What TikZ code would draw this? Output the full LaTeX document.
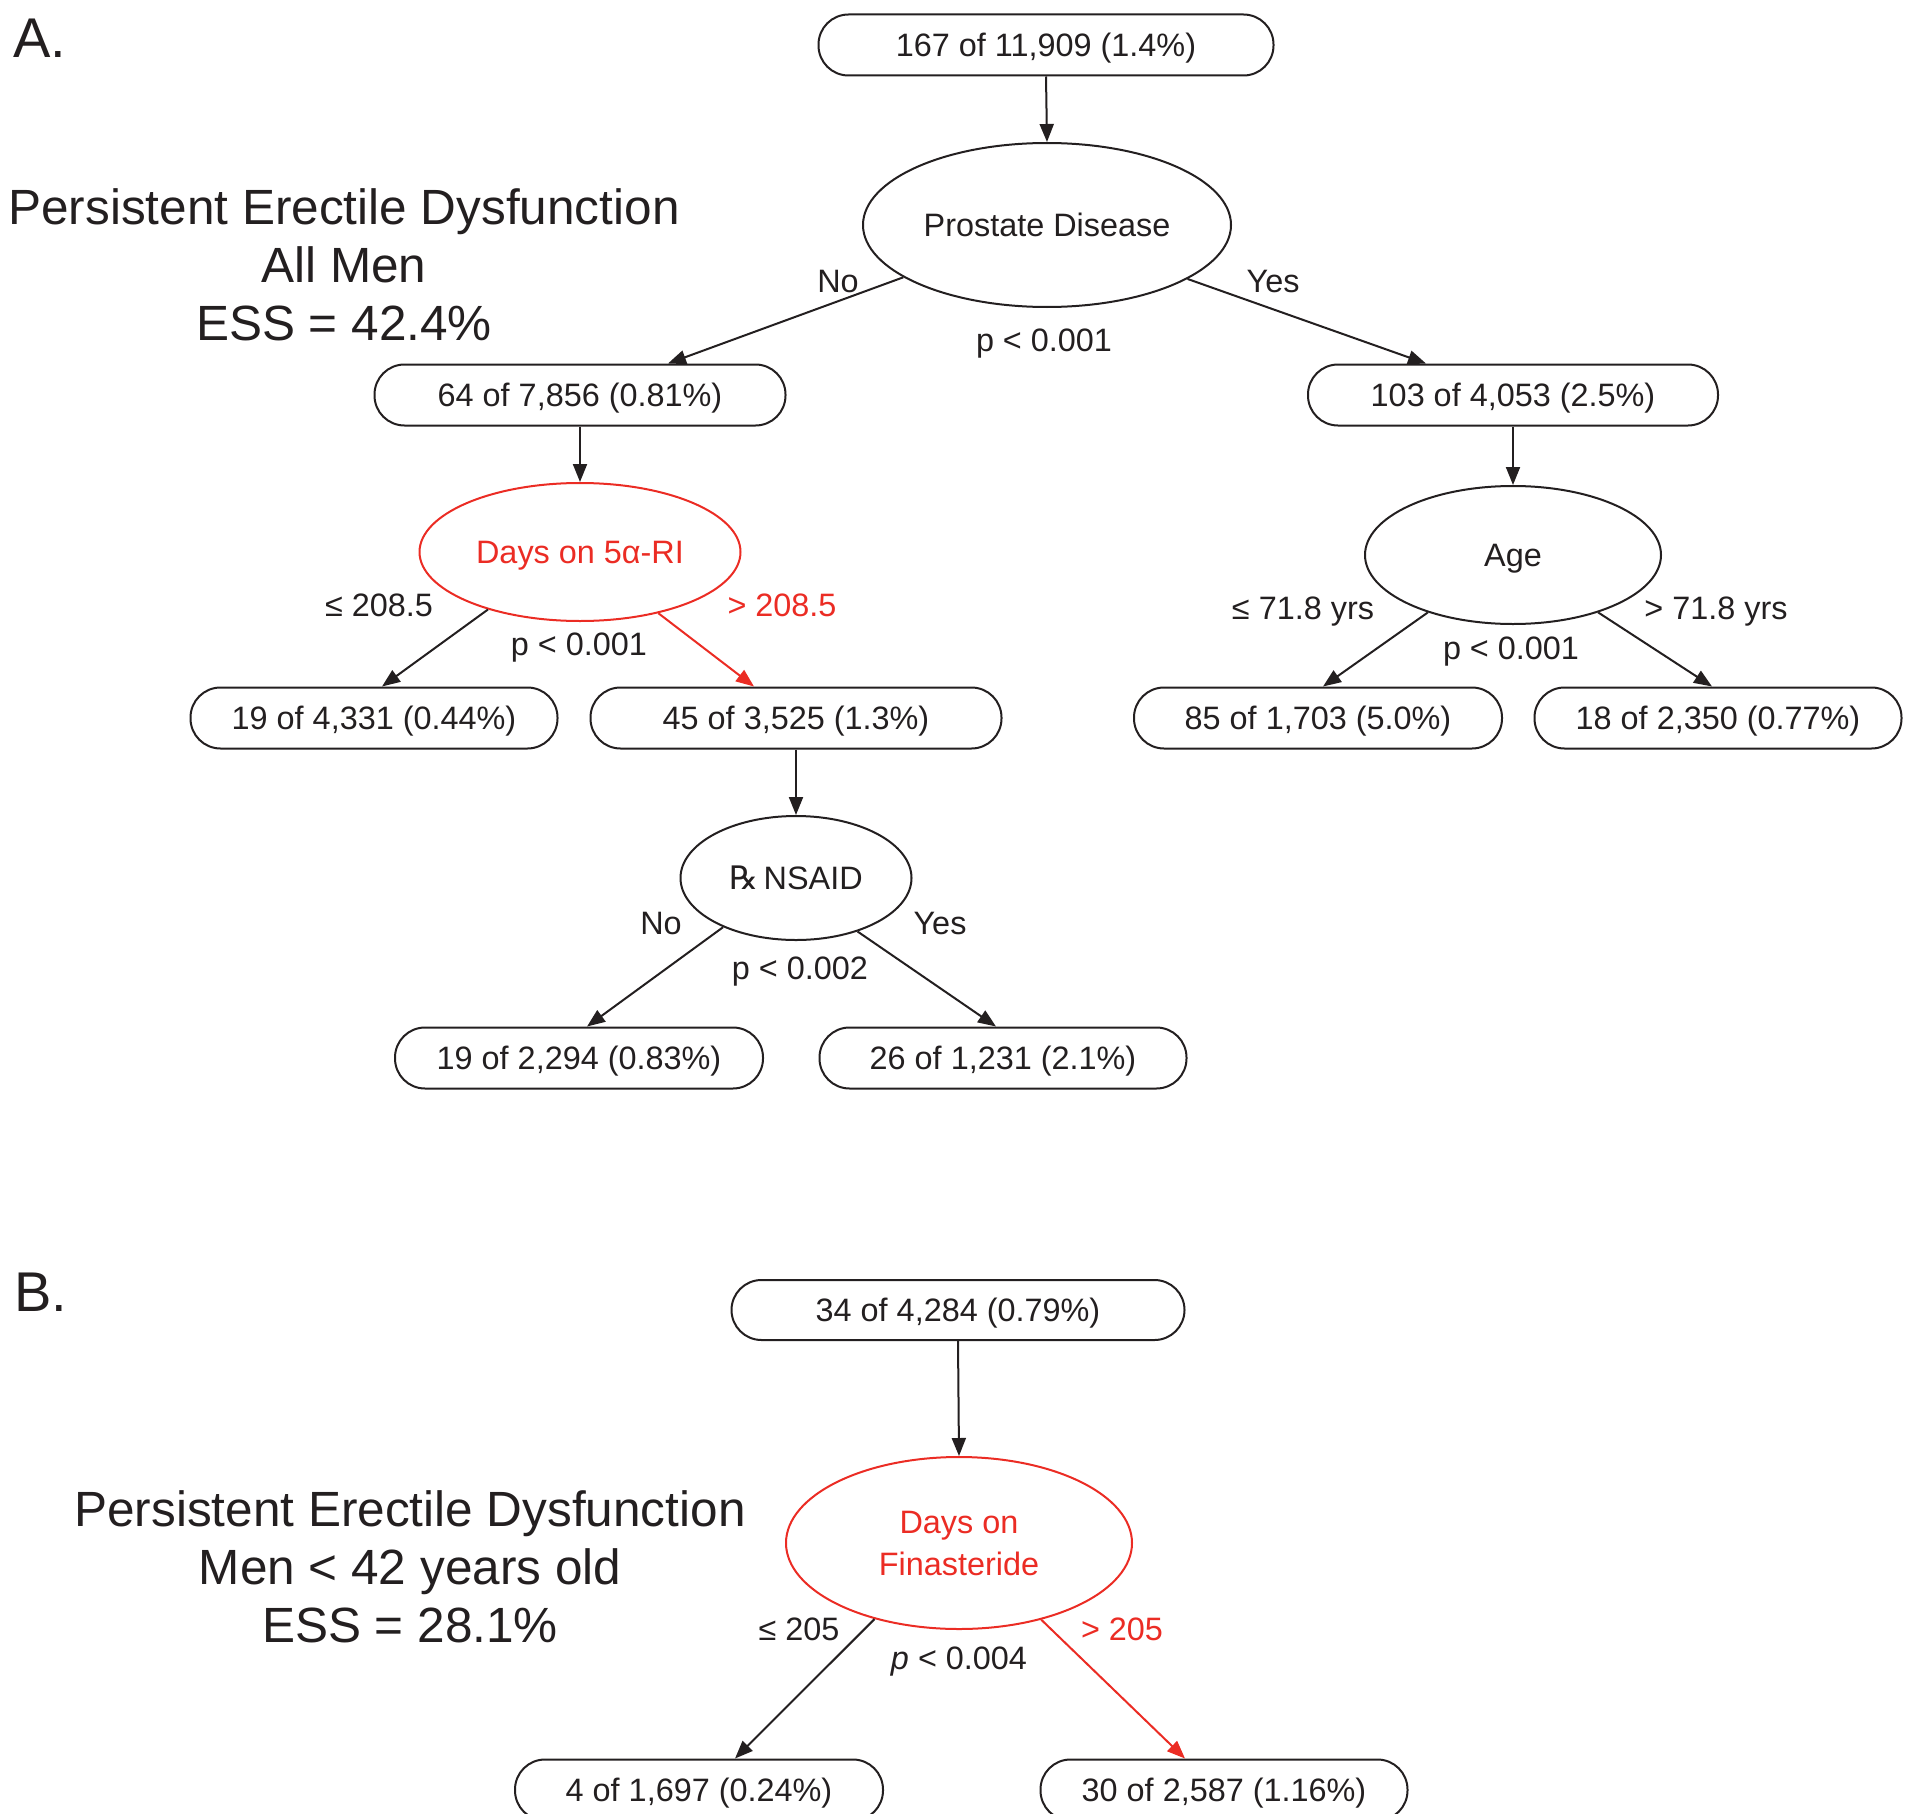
\documentclass[tikz,border=0pt]{standalone}
\usepackage{fontspec}
\setmainfont{Liberation Sans}
\newfontfamily\symfont{DejaVu Sans}
\usetikzlibrary{shapes.geometric,arrows.meta}
\definecolor{tred}{RGB}{235,44,36}
\definecolor{ink}{RGB}{35,31,32}
\tikzset{
  tl/.style={text height=23.3pt, text depth=0pt},
  box/.style={draw=ink, line width=2pt, rectangle, rounded corners=30pt, minimum height=61pt, inner sep=0pt, font=\fontsize{32.4}{38}\selectfont, text=ink, tl},
  oval/.style={draw=ink, line width=2pt, ellipse, inner sep=0pt, font=\fontsize{32.4}{42}\selectfont, text=ink, align=center},
  redoval/.style={oval, draw=tred, text=tred},
  lbl/.style={inner sep=0pt, font=\fontsize{32.4}{38}\selectfont, text=ink, tl},
  redlbl/.style={lbl, text=tred},
  title/.style={inner sep=0pt, font=\fontsize{49.5}{58}\selectfont, text=ink, align=center},
  panel/.style={inner sep=0pt, font=\fontsize{56}{60}\selectfont, text=ink},
  conn/.style={draw=ink, line width=2pt, -{Triangle[length=18pt,width=14pt]}},
  redconn/.style={conn, draw=tred, -{Triangle[length=18pt,width=14pt,fill=tred]}}
}
\begin{document}
\begin{tikzpicture}[x=1pt,y=-1pt]
\useasboundingbox (0,0) rectangle (1906,1814);
% Panel A
\node[panel] (labA) at (40,38) {A.};
\node[title] (titA) at (344,265) {Persistent Erectile Dysfunction\\All Men\\ESS = 42.4\%};
\node[box, minimum width=455pt] (top) at (1046,45) {167 of 11,909 (1.4\%)};
\node[oval, tl, minimum width=368pt, minimum height=164pt] (pd) at (1047,225) {Prostate Disease};
\node[box, minimum width=411pt] (b1) at (580,395) {64 of 7,856 (0.81\%)};
\node[box, minimum width=410pt] (b2) at (1513,395) {103 of 4,053 (2.5\%)};
\node[redoval, tl, minimum width=321pt, minimum height=138pt] (d5) at (580,552) {Days on 5α-RI};
\node[oval, tl, minimum width=296pt, minimum height=138pt] (age) at (1513,555) {Age};
\node[box, minimum width=367pt] (c1) at (374,718) {19 of 4,331 (0.44\%)};
\node[box, minimum width=411pt] (c2) at (796,718) {45 of 3,525 (1.3\%)};
\node[box, minimum width=368pt] (f1) at (1318,718) {85 of 1,703 (5.0\%)};
\node[box, minimum width=367pt] (f2) at (1718,718) {18 of 2,350 (0.77\%)};
\node[oval, tl, minimum width=231pt, minimum height=124pt] (ns) at (796,878) {{\symfont ℞}\,NSAID};
\node[box, minimum width=368pt] (e1) at (579,1058) {19 of 2,294 (0.83\%)};
\node[box, minimum width=367pt] (e2) at (1003,1058) {26 of 1,231 (2.1\%)};

\draw[conn] (top.south) -- (pd.north);
\draw[conn] (pd.200) -- ([xshift=88pt]b1.north);
\draw[conn] (pd.339.5) -- ([xshift=-87pt]b2.north);
\draw[conn] (b1.south) -- (d5.north);
\draw[conn] (b2.south) -- (age.north);
\draw[conn] (d5.212.9) -- ([xshift=8pt]c1.north);
\draw[redconn] (d5.322.5) -- ([xshift=-42pt]c2.north);
\draw[conn] (age.214) -- ([xshift=5pt]f1.north);
\draw[conn] (age.326.9) -- ([xshift=-6pt]f2.north);
\draw[conn] (c2.south) -- (ns.north);
\draw[conn] (ns.214.6) -- ([xshift=8pt]e1.north);
\draw[conn] (ns.319.2) -- ([xshift=-7pt]e2.north);

\node[lbl] (lno1) at (838,281) {No};
\node[lbl] (lyes1) at (1273,281) {Yes};
\node[lbl] (lp1) at (1044,340) {p < 0.001};
\node[lbl] (lle1) at (379,605) {≤ 208.5};
\node[redlbl] (lgt1) at (782,605) {> 208.5};
\node[lbl] (lp2) at (579,644) {p < 0.001};
\node[lbl] (lle2) at (1303,608) {≤ 71.8 yrs};
\node[lbl] (lgt2) at (1716,608) {> 71.8 yrs};
\node[lbl] (lp3) at (1511,648) {p < 0.001};
\node[lbl] (lno2) at (661,923) {No};
\node[lbl] (lyes2) at (940,923) {Yes};
\node[lbl] (lp4) at (800,968) {p < 0.002};

% Panel B
\node[panel] (labB) at (41,1292) {B.};
\node[title] (titB) at (410,1567) {Persistent Erectile Dysfunction\\Men < 42 years old\\ESS = 28.1\%};
\node[box, minimum width=453pt, minimum height=60pt] (topB) at (958,1310) {34 of 4,284 (0.79\%)};
\node[redoval, minimum width=346pt, minimum height=172pt] (fin) at (959,1543) {Days on\\Finasteride};
\node[box, minimum width=368pt] (g1) at (699,1790) {4 of 1,697 (0.24\%)};
\node[box, minimum width=367pt] (g2) at (1224,1790) {30 of 2,587 (1.16\%)};
\draw[conn] (topB.south) -- (fin.north);
\draw[conn] (fin.222.5) -- ([xshift=36pt]g1.north);
\draw[redconn] (fin.317.5) -- ([xshift=-39pt]g2.north);
\node[lbl] (lle3) at (799,1629) {≤ 205};
\node[redlbl] (lgt3) at (1122,1629) {> 205};
\node[lbl] (lp5) at (959,1658) {\textit{p} < 0.004};
\end{tikzpicture}
\end{document}
